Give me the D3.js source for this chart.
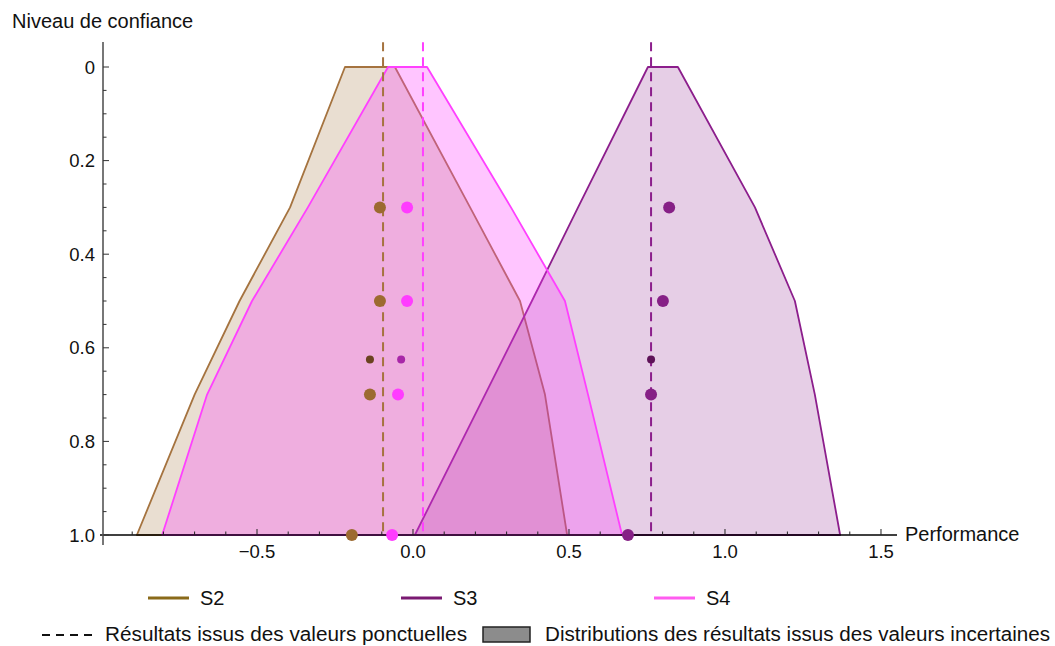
<!DOCTYPE html>
<html><head><meta charset="utf-8">
<script src="https://cdn.jsdelivr.net/npm/d3@7"></script>
<style>
body{margin:0;background:#fff;}
svg{display:block;}
text{font-family:"Liberation Sans",Arial,Helvetica,sans-serif;}
</style></head>
<body>
<svg id="c" width="1055" height="646"></svg>
<script>
// ---- data ----
const series = ["S2", "S3", "S4"];
const levels = [0, 0.3, 0.5, 0.7, 1.0];
const s2Left  = [-0.218, -0.394, -0.556, -0.700, -0.885];
const s2Right = [-0.058,  0.183,  0.343,  0.423,  0.494];
const s3Left  = [ 0.753,  0.529,  0.381,  0.231,  0.006];
const s3Right = [ 0.849,  1.096,  1.224,  1.288,  1.369];
const s4Left  = [-0.080, -0.337, -0.516, -0.660, -0.804];
const s4Right = [ 0.045,  0.314,  0.487,  0.561,  0.670];
const pointLevels = [0.3, 0.5, 0.7, 1.0];
const s2Points = [-0.106, -0.106, -0.138, -0.196];
const s3Points = [ 0.821,  0.801,  0.763,  0.689];
const s4Points = [-0.019, -0.019, -0.048, -0.067];
const smallLevel = 0.625;
const smallPoints = [-0.138, 0.763, -0.038];   // S2, S3, S4
const pointValues = [-0.096, 0.763, 0.032];    // deterministic results S2, S3, S4
const xTicks = [-0.5, 0, 0.5, 1.0, 1.5];
const xTickLabels = ["\u22120.5", "0.0", "0.5", "1.0", "1.5"];
const yTicks = [0, 0.2, 0.4, 0.6, 0.8, 1.0];
const yTickLabels = ["0", "0.2", "0.4", "0.6", "0.8", "1.0"];

// ---- style ----
const lineCol  = {S2: "#a5733f", S3: "#8c1e8c", S4: "#ff40ff"};
const fillCol  = {S2: "rgba(165,115,63,0.24)", S3: "rgba(140,30,140,0.22)", S4: "rgba(255,64,255,0.30)"};
const dotCol   = {S2: "#9c6a30", S3: "#862086", S4: "#ff3cff"};
const smallCol = {S2: "#6a4220", S3: "#5e1258", S4: "#a826a8"};
const legCol   = {S2: "#8a6a1a", S3: "#7a1a72", S4: "#ff5cf0"};

const svg = d3.select("#c");
const x = d3.scaleLinear().domain([-0.9936, 1.5513]).range([103, 897]);
const y = d3.scaleLinear().domain([0, 1]).range([67, 535]);

const polys = {
  S2: [s2Left, s2Right], S3: [s3Left, s3Right], S4: [s4Left, s4Right]
};
const pts = {S2: s2Points, S3: s3Points, S4: s4Points};

const line = d3.line().x(d => x(d[0])).y(d => y(d[1]));

series.forEach(s => {
  const [L, R] = polys[s];
  const p = levels.map((lv, i) => [L[i], lv])
    .concat(levels.map((lv, i) => [R[i], lv]).reverse());
  svg.append("path").attr("d", line(p) + "Z")
    .attr("fill", fillCol[s]).attr("stroke", lineCol[s])
    .attr("stroke-width", 1.8).attr("stroke-linejoin", "round");
});

// dashed deterministic lines
series.forEach((s, i) => {
  svg.append("line")
    .attr("x1", x(pointValues[i])).attr("x2", x(pointValues[i]))
    .attr("y1", y(-0.053)).attr("y2", y(1))
    .attr("stroke", lineCol[s]).attr("stroke-width", 2)
    .attr("stroke-dasharray", "9,6");
});

// axes
const gx = svg.append("g");
gx.append("line").attr("x1", 100).attr("x2", x.range()[1]).attr("y1", y(1)).attr("y2", y(1))
  .attr("stroke", "#000").attr("stroke-width", 1.6);
const xMinor = d3.range(-9, 16).map(v => v / 10);
gx.selectAll(".xm").data(xMinor).join("line")
  .attr("x1", d => x(d)).attr("x2", d => x(d))
  .attr("y1", y(1)).attr("y2", d => y(1) - (xTicks.some(t => Math.abs(t - d) < 1e-9) ? 6 : 3.5))
  .attr("stroke", "#222").attr("stroke-width", 1);
gx.selectAll(".xl").data(xTicks).join("text")
  .attr("x", d => x(d)).attr("y", y(1) + 23)
  .attr("text-anchor", "middle").attr("font-size", 18.5).attr("fill", "#111")
  .text((d, i) => xTickLabels[i]);
svg.append("text").attr("x", 905).attr("y", y(1) + 6).attr("font-size", 20).attr("fill", "#111")
  .text("Performance");

const gy = svg.append("g");
gy.append("line").attr("x1", 103).attr("x2", 103).attr("y1", 42).attr("y2", 545)
  .attr("stroke", "#555").attr("stroke-width", 1.6);
const yMinor = d3.range(0, 21).map(v => v / 20);
gy.selectAll(".ym").data(yMinor).join("line")
  .attr("x1", 103).attr("x2", d => 103 + (yTicks.some(t => Math.abs(t - d) < 1e-9) ? 6 : 3.5))
  .attr("y1", d => y(d)).attr("y2", d => y(d))
  .attr("stroke", "#333").attr("stroke-width", 1);
gy.selectAll(".yl").data(yTicks).join("text")
  .attr("x", 95).attr("y", d => y(d) + 6.5)
  .attr("text-anchor", "end").attr("font-size", 18.5).attr("fill", "#111")
  .text((d, i) => yTickLabels[i]);
svg.append("text").attr("x", 12).attr("y", 28).attr("font-size", 20).attr("fill", "#111")
  .text("Niveau de confiance");

// dots
series.forEach((s, si) => {
  svg.selectAll(".d" + s).data(pointLevels).join("circle")
    .attr("cx", (d, i) => x(pts[s][i])).attr("cy", d => y(d)).attr("r", 6)
    .attr("fill", dotCol[s]);
  svg.append("circle").attr("cx", x(smallPoints[si])).attr("cy", y(smallLevel)).attr("r", 4)
    .attr("fill", smallCol[s]);
});

// legend row 1
const legX = [148, 401, 654];
series.forEach((s, i) => {
  svg.append("line").attr("x1", legX[i]).attr("x2", legX[i] + 41).attr("y1", 598).attr("y2", 598)
    .attr("stroke", legCol[s]).attr("stroke-width", 3);
  svg.append("text").attr("x", legX[i] + 52).attr("y", 605)
    .attr("font-family", "'Liberation Sans Narrow','Liberation Sans',Arial,sans-serif")
    .attr("font-size", 20).attr("fill", "#111").text(s);
});

// legend row 2
svg.append("line").attr("x1", 42).attr("x2", 92).attr("y1", 635).attr("y2", 635)
  .attr("stroke", "#111").attr("stroke-width", 2).attr("stroke-dasharray", "8,6");
svg.append("text").attr("x", 105).attr("y", 641)
  .attr("font-family", "'Liberation Sans Narrow','Liberation Sans',Arial,sans-serif")
  .attr("font-size", 20).attr("fill", "#111")
  .attr("textLength", 362).attr("lengthAdjust", "spacingAndGlyphs")
  .text("Résultats issus des valeurs ponctuelles");
svg.append("rect").attr("x", 483).attr("y", 627).attr("width", 47).attr("height", 15)
  .attr("fill", "#8c8c8c").attr("stroke", "#222").attr("stroke-width", 1.5);
svg.append("text").attr("x", 545).attr("y", 641)
  .attr("font-family", "'Liberation Sans Narrow','Liberation Sans',Arial,sans-serif")
  .attr("font-size", 20).attr("fill", "#111")
  .attr("textLength", 505).attr("lengthAdjust", "spacingAndGlyphs")
  .text("Distributions des résultats issus des valeurs incertaines");
</script>
</body></html>
